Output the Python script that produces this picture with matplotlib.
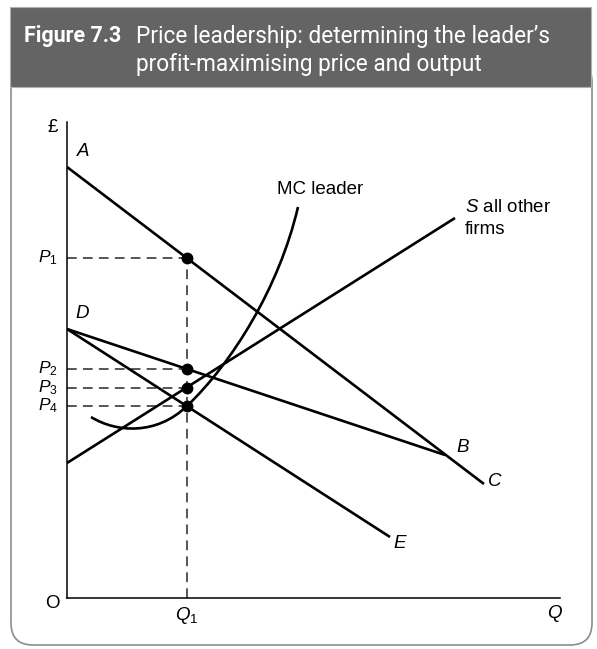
import matplotlib
matplotlib.use("Agg")
import matplotlib.pyplot as plt
from matplotlib.patches import Rectangle, FancyBboxPatch, PathPatch
from matplotlib.path import Path

plt.rcParams['font.family'] = ['Liberation Sans', 'DejaVu Sans']
plt.rcParams['mathtext.fontset'] = 'custom'
plt.rcParams['mathtext.rm'] = 'Liberation Sans'
plt.rcParams['mathtext.it'] = 'Liberation Sans:italic'

# Curve end points (x = quantity, y = price)
line_A = [(0, 431), (417, 114)]      # AC: market demand
line_DB = [(0, 269), (378, 143)]     # DB: leader's demand
line_DE = [(0, 269), (323, 61)]      # DE: leader's MR
line_S = [(0, 135), (388, 380)]      # S all other firms
# MC leader drawn as two cubic Bezier pieces (start, ctrl, ctrl, end, ctrl, ctrl, end)
mc_pts = [(24, 181), (50, 165), (90, 163), (120, 192),
          (165, 235), (212, 310), (231, 391)]

q1 = 120
p_values = [340, 229, 210, 192]
p_names = ['$P_1$', '$P_2$', '$P_3$', '$P_4$']

fig = plt.figure(figsize=(5.97, 6.49), dpi=100)

# background layer in pixel coordinates
bg = fig.add_axes([0, 0, 1, 1])
bg.set_xlim(0, 597)
bg.set_ylim(649, 0)
bg.axis('off')
panel = FancyBboxPatch((11, 60), 581, 585, boxstyle='round,pad=0,rounding_size=22',
                       facecolor='white', edgecolor='#8c8c8c', lw=1.2)
bg.add_patch(panel)
bg.add_patch(Rectangle((10, 7), 581, 80, facecolor='#646464', edgecolor='#b0b0b0', lw=0.8))
hfs = 16.3
bg.text(24, 36, 'Figure 7.3', color='white', fontsize=15.5, fontweight='bold',
        family='Roboto', va='center', ha='left')
bg.text(136, 36, 'Price leadership: determining the leader\u2019s', color='white',
        fontsize=hfs, family='Roboto', va='center', ha='left')
bg.text(136, 64, 'profit-maximising price and output', color='white',
        fontsize=hfs, family='Roboto', va='center', ha='left')

# chart axes
ax = fig.add_axes([67 / 597, 51 / 649, 493 / 597, 476 / 649])
ax.set_xlim(0, 493)
ax.set_ylim(0, 476)
ax.patch.set_alpha(0)
for s in ['top', 'right']:
    ax.spines[s].set_visible(False)
for s in ['left', 'bottom']:
    ax.spines[s].set_linewidth(1.1)
ax.set_xticks([])
ax.set_yticks([])

lw = 1.9
dash_col = '#555555'
for p in p_values:
    ax.plot([0, q1], [p, p], color=dash_col, lw=1.4, dashes=(5, 3.2), zorder=1)
ax.plot([q1, q1], [0, p_values[0]], color=dash_col, lw=1.4, dashes=(5, 3.2), zorder=1)

for ln in [line_A, line_DB, line_DE, line_S]:
    ax.plot([ln[0][0], ln[1][0]], [ln[0][1], ln[1][1]], color='black', lw=lw,
            solid_capstyle='butt', zorder=2)

codes = [Path.MOVETO] + [Path.CURVE4] * 6
ax.add_patch(PathPatch(Path(mc_pts, codes), facecolor='none', edgecolor='black',
                       lw=lw, zorder=2))

ax.plot([q1] * len(p_values), p_values, 'o', color='black', markersize=7.5, zorder=3)

fs = 13.5
ax.text(-14, 470, '\u00a3', fontsize=fs, ha='center', va='center', clip_on=False)
ax.text(-15, -6, 'O', fontsize=fs, ha='center', va='center', clip_on=False)
ax.text(16, 446, 'A', fontsize=fs, style='italic', ha='center', va='center')
ax.text(15, 285, 'D', fontsize=fs, style='italic', ha='center', va='center')
ax.text(396, 150, 'B', fontsize=fs, style='italic', ha='center', va='center')
ax.text(428, 117, 'C', fontsize=fs, style='italic', ha='center', va='center')
ax.text(333, 54, 'E', fontsize=fs, style='italic', ha='center', va='center')
ax.text(q1, -17, '$Q_1$', fontsize=fs, ha='center', va='center', clip_on=False)
ax.text(487, -15, 'Q', fontsize=fs, style='italic', ha='center', va='center', clip_on=False)
for p, name in zip(p_values, p_names):
    ax.text(-9, p, name, fontsize=12.5, ha='right', va='center', clip_on=False)
ax.text(210, 409, 'MC leader', fontsize=fs, ha='left', va='center')
ax.text(398, 390, '$S$ all other', fontsize=fs, ha='left', va='center')
ax.text(398, 368, 'firms', fontsize=fs, ha='left', va='center')

fig.savefig('out.png', dpi=100)
